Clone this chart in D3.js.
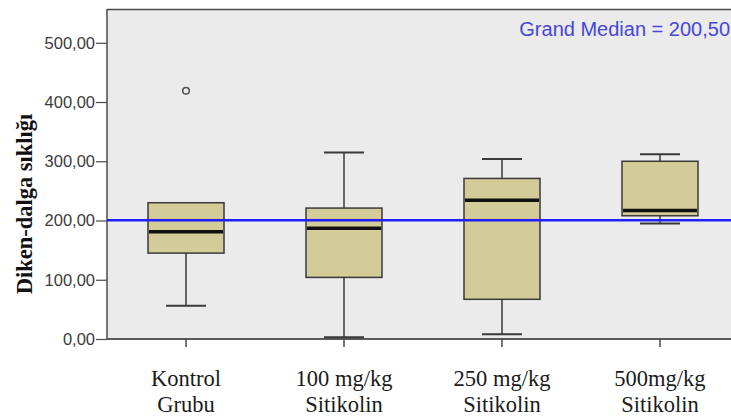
<!DOCTYPE html>
<html>
<head>
<meta charset="utf-8">
<script src="https://cdn.jsdelivr.net/npm/d3@7"></script>
<style>
  html, body { margin: 0; padding: 0; background: #fff; }
  svg { display: block; }
</style>
</head>
<body>
<svg id="chart" width="731" height="418"></svg>
<script>
// Box-plot summaries per treatment group
const categories = [["Kontrol", "Grubu"], ["100 mg/kg", "Sitikolin"], ["250 mg/kg", "Sitikolin"], ["500mg/kg", "Sitikolin"]];
const whiskerLow = [56, 3, 8, 195];
const q1 = [145, 104, 67, 208];
const median = [181, 187, 234, 217];
const q3 = [230, 221, 271, 300];
const whiskerHigh = [230, 315, 304, 312];
const outliers = [[419], [], [], []];
const grandMedian = 200.5;
const yTicks = [0, 100, 200, 300, 400, 500];

const svg = d3.select("#chart");
const plotLeft = 107, plotTop = 9, plotBottom = 339, plotRight = 739;

const keys = categories.map((c, i) => i);
const x = d3.scaleBand().domain(keys).range([plotLeft, plotRight]).paddingInner(0).paddingOuter(0);
const y = d3.scaleLinear().domain([0, 557]).range([plotBottom, plotTop]);
const fmt = v => d3.format(".2f")(v).replace(".", ",");

// plot area background
svg.append("rect").attr("x", plotLeft).attr("y", plotTop)
  .attr("width", plotRight - plotLeft).attr("height", plotBottom - plotTop)
  .attr("fill", "#ebebeb");

// frame (top edge)
svg.append("line").attr("x1", plotLeft).attr("x2", 731).attr("y1", plotTop + 0.5).attr("y2", plotTop + 0.5)
  .attr("stroke", "#4a4a4a").attr("stroke-width", 1.5);

// y axis
const yAxis = svg.append("g").attr("transform", `translate(${plotLeft},0)`)
  .call(d3.axisLeft(y).tickValues(yTicks).tickFormat(fmt).tickSize(11).tickPadding(1));
yAxis.select(".domain").attr("stroke", "#4a4a4a").attr("stroke-width", 1.5)
  .attr("d", `M0,${plotTop}V${plotBottom}`);
yAxis.selectAll(".tick line").attr("stroke", "#4a4a4a").attr("stroke-width", 1.2);
yAxis.selectAll(".tick text").attr("fill", "#3c3c3c")
  .style("font-family", "Arial, 'Liberation Sans', sans-serif").style("font-size", "16.5px");

// x axis
const xAxis = svg.append("g").attr("transform", `translate(0,${plotBottom})`)
  .call(d3.axisBottom(x).tickSize(8).tickFormat(""));
xAxis.select(".domain").attr("stroke", "#5a5a5a").attr("stroke-width", 2)
  .attr("d", `M${plotLeft},0H731`);
xAxis.selectAll(".tick line").attr("stroke", "#4a4a4a").attr("stroke-width", 1.5);

// category labels (two lines)
const lab = svg.append("g");
categories.forEach((c, i) => {
  const cx = x(i) + x.bandwidth() / 2;
  const t = lab.append("text")
    .attr("text-anchor", "middle")
    .attr("fill", "#1a1a1a")
    .style("font-family", "'Liberation Serif', 'Times New Roman', serif")
    .style("font-size", "22.5px");
  t.append("tspan").attr("x", cx).attr("y", 386).text(c[0]);
  t.append("tspan").attr("x", cx).attr("y", 412).text(c[1]);
});

// y axis title
svg.append("text")
  .attr("transform", `translate(32,204) rotate(-90)`)
  .attr("text-anchor", "middle")
  .attr("fill", "#111")
  .style("font-family", "'Liberation Serif', 'Times New Roman', serif")
  .style("font-weight", "bold")
  .style("font-size", "22.5px")
  .text("Diken-dalga sıklığı");

// boxes
const boxW = 76, capW = 40;
const g = svg.append("g");
keys.forEach(i => {
  const cx = x(i) + x.bandwidth() / 2;
  const stroke = "#3a3a3a";
  if (whiskerHigh[i] > q3[i]) {
    g.append("line").attr("x1", cx).attr("x2", cx).attr("y1", y(q3[i])).attr("y2", y(whiskerHigh[i]))
      .attr("stroke", stroke).attr("stroke-width", 1.5);
    g.append("line").attr("x1", cx - capW / 2).attr("x2", cx + capW / 2)
      .attr("y1", y(whiskerHigh[i])).attr("y2", y(whiskerHigh[i]))
      .attr("stroke", stroke).attr("stroke-width", 2);
  }
  if (whiskerLow[i] < q1[i]) {
    g.append("line").attr("x1", cx).attr("x2", cx).attr("y1", y(q1[i])).attr("y2", y(whiskerLow[i]))
      .attr("stroke", stroke).attr("stroke-width", 1.5);
    g.append("line").attr("x1", cx - capW / 2).attr("x2", cx + capW / 2)
      .attr("y1", y(whiskerLow[i])).attr("y2", y(whiskerLow[i]))
      .attr("stroke", stroke).attr("stroke-width", 2);
  }
  g.append("rect").attr("x", cx - boxW / 2).attr("y", y(q3[i]))
    .attr("width", boxW).attr("height", y(q1[i]) - y(q3[i]))
    .attr("fill", "#d4cc98").attr("stroke", stroke).attr("stroke-width", 1.5);
  g.append("line").attr("x1", cx - boxW / 2 + 1).attr("x2", cx + boxW / 2 - 1)
    .attr("y1", y(median[i])).attr("y2", y(median[i]))
    .attr("stroke", "#111").attr("stroke-width", 3.5);
  outliers[i].forEach(v => {
    g.append("circle").attr("cx", cx).attr("cy", y(v)).attr("r", 3.3)
      .attr("fill", "#ebebeb").attr("stroke", "#555").attr("stroke-width", 1.6);
  });
});

// grand median reference line
svg.append("line").attr("x1", plotLeft).attr("x2", 731)
  .attr("y1", y(grandMedian)).attr("y2", y(grandMedian))
  .attr("stroke", "#1f1fff").attr("stroke-width", 2.6);

svg.append("text")
  .attr("x", 730).attr("y", 36)
  .attr("text-anchor", "end")
  .attr("fill", "#4646dc")
  .style("font-family", "Arial, 'Liberation Sans', sans-serif")
  .style("font-size", "20px")
  .text("Grand Median = " + fmt(grandMedian));
</script>
</body>
</html>
